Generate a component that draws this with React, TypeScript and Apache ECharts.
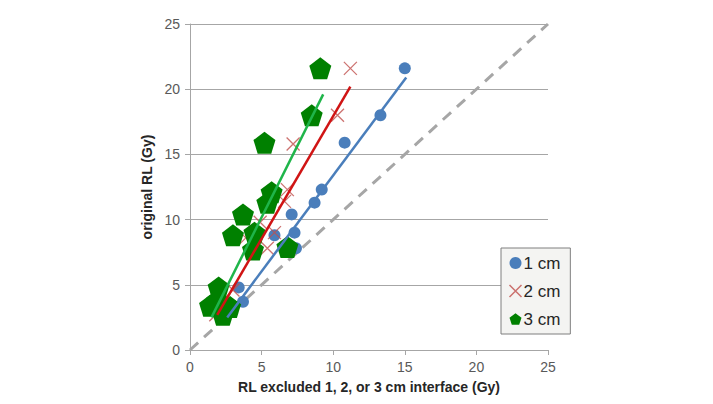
import React, { useEffect, useRef } from "react";
import * as echarts from "echarts";

// Dose pairs: [RL with interface excluded (Gy), original RL (Gy)]
const series1cm: [number, number][] = [
  [15.0, 21.6], [13.3, 18.0], [10.8, 15.9], [9.2, 12.3], [8.7, 11.3],
  [7.1, 10.4], [7.3, 9.0], [5.9, 8.8], [7.4, 7.8], [3.4, 4.8],
  [3.7, 3.7], [3.0, 3.2], [2.5, 2.7],
];
const series2cm: [number, number][] = [
  [11.2, 21.6], [10.3, 18.0], [7.2, 15.8], [6.8, 12.3], [6.6, 11.4],
  [4.9, 9.8], [5.9, 9.0], [3.9, 8.6], [5.4, 7.8], [3.0, 4.6],
  [2.3, 3.8], [2.0, 3.2], [1.8, 2.7],
];
const series3cm: [number, number][] = [
  [9.1, 21.6], [8.5, 18.0], [5.2, 15.9], [5.7, 12.1], [5.4, 11.3],
  [3.7, 10.4], [4.5, 9.0], [3.0, 8.8], [4.4, 7.7], [6.8, 7.9],
  [2.0, 4.8], [1.9, 3.8], [1.4, 3.4], [2.3, 2.7], [2.8, 3.3],
];

// Linear trend lines (start and end points)
const trend1cm: [number, number][] = [[2.6, 2.5], [15.1, 20.9]];
const trend2cm: [number, number][] = [[1.9, 2.7], [11.2, 20.2]];
const trend3cm: [number, number][] = [[1.5, 2.5], [9.3, 19.6]];

// Line of identity
const identity: [number, number][] = [[0, 0], [25, 25]];

const legendNames = ["1 cm", "2 cm", "3 cm"];
const axisTicks = [0, 5, 10, 15, 20, 25];

const PENTAGON = "path://M50,0L97.6,34.5L79.4,90.5L20.6,90.5L2.4,34.5Z";
const CROSS = "path://M0,0L10,10M10,0L0,10";

const BLUE = "#4a7ebb";
const RED = "#c0504d";
const GREEN = "#008000";

export default function App() {
  const ref = useRef<HTMLDivElement>(null);

  useEffect(() => {
    if (!ref.current) return;
    const chart = echarts.init(ref.current, undefined, { renderer: "svg" });
    const axisCommon = {
      min: axisTicks[0],
      max: axisTicks[axisTicks.length - 1],
      interval: 5,
      axisLine: { show: true, lineStyle: { color: "#a6a6a6", width: 1 } },
      axisTick: { show: true, length: 5, lineStyle: { color: "#a6a6a6" } },
      axisLabel: {
        color: "#595959",
        fontSize: 14,
        fontFamily: "Liberation Sans, Arial, sans-serif",
      },
      nameTextStyle: {
        color: "#262626",
        fontSize: 14,
        fontWeight: "bold" as const,
        fontFamily: "Liberation Sans, Arial, sans-serif",
      },
    };
    chart.setOption({
      animation: false,
      backgroundColor: "#ffffff",
      grid: { left: 190, right: 165, top: 24, bottom: 54 },
      xAxis: {
        type: "value",
        ...axisCommon,
        splitLine: { show: false },
        name: "RL excluded 1, 2, or 3 cm interface (Gy)",
        nameLocation: "middle",
        nameGap: 30,
        axisLabel: { ...axisCommon.axisLabel, margin: 10 },
      },
      yAxis: {
        type: "value",
        ...axisCommon,
        splitLine: { show: true, lineStyle: { color: "#a6a6a6", width: 1 } },
        name: "original RL (Gy)",
        nameLocation: "middle",
        nameGap: 34,
        axisLabel: { ...axisCommon.axisLabel, margin: 10 },
      },
      legend: {
        data: [
          { name: legendNames[0], icon: "circle", itemStyle: { color: BLUE } },
          { name: legendNames[1], icon: CROSS, itemStyle: { color: "none", borderColor: RED, borderWidth: 1.5 } },
          { name: legendNames[2], icon: PENTAGON, itemStyle: { color: GREEN } },
        ],
        orient: "vertical",
        left: 501,
        top: 248,
        itemWidth: 12,
        itemHeight: 12,
        itemGap: 10,
        padding: [6, 10, 6, 6],
        backgroundColor: "#f4f4f2",
        borderColor: "#7f7f7f",
        borderWidth: 1,
        textStyle: {
          fontSize: 17,
          lineHeight: 18,
          color: "#262626",
          fontFamily: "Liberation Sans, Arial, sans-serif",
          padding: [0, 0, 0, -3],
        },
      },
      series: [
        {
          type: "line",
          data: identity,
          symbol: "none",
          silent: true,
          lineStyle: { color: "#a6a6a6", width: 3, type: [11, 8] },
          z: 1,
        },
        {
          name: legendNames[0],
          type: "scatter",
          data: series1cm,
          symbol: "circle",
          symbolSize: 12,
          itemStyle: { color: BLUE, opacity: 1 },
          z: 2,
        },
        {
          name: legendNames[1],
          type: "scatter",
          data: series2cm,
          symbol: CROSS,
          symbolSize: 13,
          itemStyle: { color: "none", borderColor: RED, borderWidth: 1.3 },
          z: 3,
        },
        {
          name: legendNames[2],
          type: "scatter",
          data: series3cm,
          symbol: PENTAGON,
          symbolSize: 22,
          itemStyle: { color: GREEN, opacity: 1 },
          z: 4,
        },
        {
          type: "line",
          data: trend1cm,
          symbol: "none",
          lineStyle: { color: BLUE, width: 2.5 },
          z: 5,
        },
        {
          type: "line",
          data: trend2cm,
          symbol: "none",
          lineStyle: { color: "#d01414", width: 2.5 },
          z: 5,
        },
        {
          type: "line",
          data: trend3cm,
          symbol: "none",
          lineStyle: { color: "#1fb54a", width: 2.5 },
          z: 5,
        },
      ],
    });
    return () => chart.dispose();
  }, []);

  return <div ref={ref} style={{ width: 713, height: 404, margin: -8 }} />;
}
